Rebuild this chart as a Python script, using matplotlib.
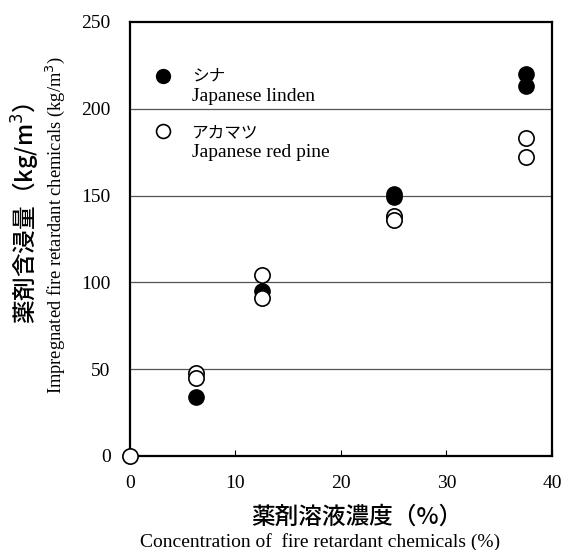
import matplotlib.pyplot as plt

# Concentration (%) and impregnated amount (kg/m3)
linden_x = [6.25, 12.5, 25, 25, 37.5, 37.5]
linden_y = [34, 95, 151, 149, 220, 213]
pine_x = [0, 6.25, 6.25, 12.5, 12.5, 25, 25, 37.5, 37.5]
pine_y = [0, 48, 45, 104, 91, 138, 136, 183, 172]

xticks = [0, 10, 20, 30, 40]
yticks = [0, 50, 100, 150, 200, 250]

serif = "Liberation Serif"
jp = ["Noto Sans CJK JP", "DejaVu Sans"]

fig = plt.figure(figsize=(5.65, 5.5), dpi=100)
ax = fig.add_axes([0.230, 0.171, 0.747, 0.789])

for y in [50, 100, 150, 200]:
    ax.axhline(y, color="#555555", lw=0.9, zorder=1)

ax.plot(linden_x, linden_y, "o", color="black", ms=11, zorder=3, clip_on=False)
ax.plot(pine_x, pine_y, "o", mfc="white", mec="black", mew=1.2, ms=11, zorder=4, clip_on=False)

ax.set_xlim(0, 40)
ax.set_ylim(0, 250)
ax.set_xticks(xticks)
ax.set_yticks(yticks)
ax.tick_params(axis="x", direction="in", length=4, width=0.8, pad=14)
ax.tick_params(axis="y", length=0, pad=14)
for lab in ax.get_xticklabels() + ax.get_yticklabels():
    lab.set_family(serif)
    lab.set_fontsize(14)
for s in ax.spines.values():
    s.set_linewidth(1.6)

# legend drawn by hand
ax.plot([3.1], [219], "o", color="black", ms=10, clip_on=False)
ax.plot([3.1], [187], "o", mfc="white", mec="black", mew=1.2, ms=10, clip_on=False)
ax.text(5.9, 219, "シナ", family=jp, fontsize=12, va="center")
ax.text(5.9, 207, "Japanese linden", family=serif, fontsize=14, va="center")
ax.text(5.9, 186, "アカマツ", family=jp, fontsize=12, va="center")
ax.text(5.9, 175, "Japanese red pine", family=serif, fontsize=14, va="center")

fig.text(0.632, 0.06, "薬剤溶液濃度（%）", family=jp, fontsize=17, fontweight="medium",
         ha="center", va="center")
fig.text(0.566, 0.015, "Concentration of  fire retardant chemicals (%)", family=serif,
         fontsize=14, ha="center", va="center")
fig.text(0.046, 0.613, "薬剤含浸量（kg/m$^3$）", family=jp, fontsize=17, fontweight="medium",
         rotation=90, ha="center", va="center")
fig.text(0.098, 0.59, "Impregnated fire retardant chemicals (kg/m$^3$)", family=serif,
         fontsize=13.3, rotation=90, ha="center", va="center")

fig.savefig("out.png", dpi=100)
